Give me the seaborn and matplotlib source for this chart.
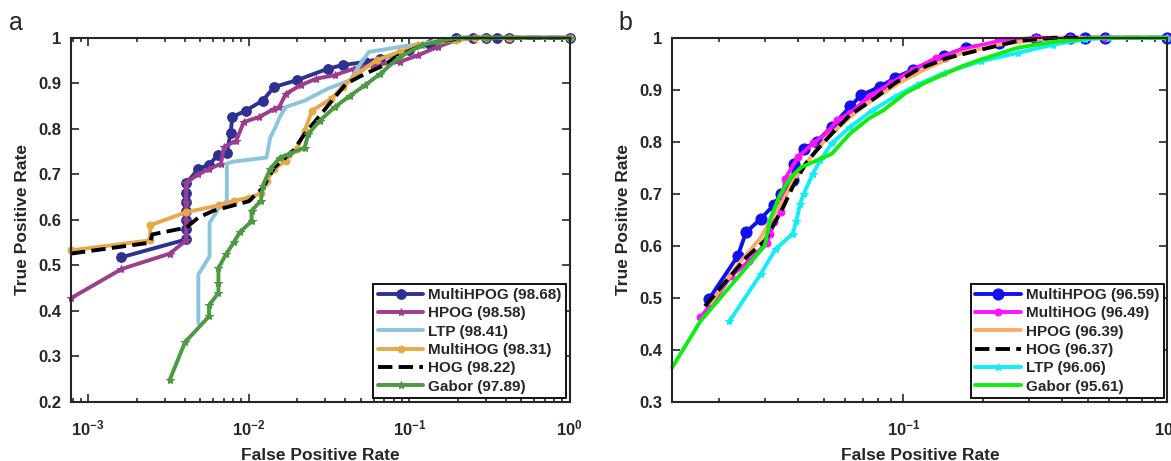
import numpy as np
import pandas as pd
import matplotlib
matplotlib.use("Agg")
import matplotlib.pyplot as plt
import matplotlib.ticker as mticker
import seaborn as sns

sns.set_style("ticks")
plt.rcParams["font.family"] = ["Liberation Sans", "DejaVu Sans"]
plt.rcParams["font.weight"] = "bold"
plt.rcParams["mathtext.fontset"] = "custom"
plt.rcParams["mathtext.rm"] = "Liberation Sans:bold"
plt.rcParams["mathtext.bf"] = "Liberation Sans:bold"

# ---------- panel a data (FPR, TPR) ----------
a_multihpog_fpr = [1.61e-3, 4.07e-3, 4.07e-3, 4.07e-3, 4.07e-3, 4.07e-3, 4.07e-3, 4.07e-3, 4.85e-3, 5.65e-3,
                   6.45e-3, 7.3e-3, 7.7e-3, 7.9e-3, 9.57e-3, 0.0122, 0.0144, 0.020, 0.031, 0.0384, 0.053,
                   0.066, 0.1, 0.134, 0.196, 0.25, 0.30, 0.35, 0.42, 1.0]
a_multihpog_tpr = [0.518, 0.557, 0.58, 0.60, 0.62, 0.64, 0.66, 0.68, 0.712, 0.721,
                   0.743, 0.748, 0.79, 0.826, 0.84, 0.862, 0.892, 0.907, 0.932, 0.94, 0.947,
                   0.954, 0.973, 0.987, 1.0, 1.0, 1.0, 1.0, 1.0, 1.0]
a_hpog_fpr = [7.8e-4, 1.61e-3, 3.22e-3, 4.07e-3, 4.07e-3, 4.07e-3, 4.07e-3, 4.85e-3, 5.65e-3, 6.7e-3,
              7.0e-3, 8.35e-3, 9.3e-3, 0.0116, 0.0144, 0.0155, 0.017, 0.0211, 0.0262, 0.0344, 0.045,
              0.059, 0.087, 0.114, 0.15, 0.196, 0.256, 1.0]
a_hpog_tpr = [0.428, 0.492, 0.526, 0.555, 0.60, 0.64, 0.682, 0.70, 0.712, 0.723,
              0.76, 0.774, 0.815, 0.826, 0.844, 0.848, 0.877, 0.896, 0.91, 0.918, 0.932,
              0.94, 0.947, 0.962, 0.98, 0.995, 1.0, 1.0]
a_ltp_fpr = [4.85e-3, 4.85e-3, 5.7e-3, 5.7e-3, 6.55e-3, 7.3e-3, 7.3e-3, 8.0e-3, 0.0129, 0.0136, 0.0145,
             0.0156, 0.017, 0.0223, 0.031, 0.0428, 0.049, 0.056, 0.087, 0.12, 0.196, 1.0]
a_ltp_tpr = [0.373, 0.48, 0.52, 0.594, 0.627, 0.642, 0.724, 0.728, 0.737, 0.781, 0.80,
             0.826, 0.848, 0.862, 0.888, 0.907, 0.94, 0.969, 0.98, 0.987, 1.0, 1.0]
a_multihog_fpr = [7.8e-4, 2.43e-3, 2.43e-3, 4.07e-3, 6.53e-3, 8.1e-3, 0.01, 0.0119, 0.0129, 0.0144,
                  0.017, 0.020, 0.0223, 0.0248, 0.0326, 0.0384, 0.0464, 0.0626, 0.087, 0.114, 0.196,
                  0.256, 0.30, 0.42, 1.0]
a_multihog_tpr = [0.533, 0.555, 0.588, 0.617, 0.632, 0.642, 0.649, 0.658, 0.686, 0.712,
                  0.73, 0.756, 0.796, 0.84, 0.866, 0.892, 0.918, 0.951, 0.969, 0.984, 0.995,
                  1.0, 1.0, 1.0, 1.0]
a_hog_fpr = [7.8e-4, 2.43e-3, 2.5e-3, 4.07e-3, 4.85e-3, 6.0e-3, 0.01, 0.0122, 0.0144, 0.0189, 0.0223,
             0.0277, 0.0344, 0.0404, 0.053, 0.066, 0.087, 0.114, 0.15, 0.22, 1.0]
a_hog_tpr = [0.526, 0.55, 0.568, 0.583, 0.605, 0.62, 0.641, 0.67, 0.715, 0.752, 0.789,
             0.829, 0.87, 0.899, 0.921, 0.936, 0.962, 0.98, 0.991, 1.0, 1.0]
a_gabor_fpr = [3.22e-3, 4.0e-3, 5.65e-3, 5.65e-3, 6.47e-3, 6.47e-3, 6.47e-3, 7.2e-3, 8.1e-3, 8.8e-3,
               0.0104, 0.0104, 0.0119, 0.0122, 0.0136, 0.0156, 0.0179, 0.0223, 0.0235, 0.0277, 0.0344,
               0.0428, 0.053, 0.066, 0.087, 0.12, 0.15, 0.20, 0.30, 1.0]
a_gabor_tpr = [0.249, 0.331, 0.388, 0.412, 0.44, 0.461, 0.494, 0.524, 0.552, 0.573,
               0.597, 0.62, 0.642, 0.675, 0.712, 0.737, 0.745, 0.759, 0.789, 0.818, 0.848,
               0.873, 0.896, 0.921, 0.958, 0.984, 0.991, 1.0, 1.0, 1.0]

# ---------- panel b data ----------
b_multihpog_fpr = [0.0183, 0.0236, 0.0253, 0.0288, 0.0323, 0.0344, 0.038, 0.0386, 0.0419, 0.0469, 0.0535,
                   0.0628, 0.0693, 0.0815, 0.0929, 0.109, 0.142, 0.172, 0.23, 0.319, 0.427, 0.485,
                   0.58, 1.0]
b_multihpog_tpr = [0.497, 0.581, 0.626, 0.652, 0.679, 0.70, 0.726, 0.758, 0.787, 0.80, 0.829,
                   0.868, 0.89, 0.906, 0.923, 0.939, 0.965, 0.981, 0.99, 0.998, 1.0, 1.0,
                   1.0, 1.0]
b_multihog_fpr = [0.017, 0.0189, 0.0222, 0.0261, 0.0303, 0.0313, 0.0323, 0.0344, 0.0356, 0.0399, 0.0454,
                  0.0517, 0.0561, 0.0628, 0.074, 0.0898, 0.109, 0.133, 0.166, 0.23, 0.319, 0.427,
                  0.58, 1.0]
b_multihog_tpr = [0.463, 0.49, 0.542, 0.571, 0.606, 0.623, 0.645, 0.666, 0.729, 0.771, 0.797,
                  0.819, 0.842, 0.855, 0.887, 0.913, 0.939, 0.961, 0.977, 0.994, 1.0, 1.0,
                  1.0, 1.0]
b_hpog_fpr = [0.0186, 0.0237, 0.0288, 0.0318, 0.035, 0.038, 0.0426, 0.0517, 0.0628, 0.0764, 0.096,
              0.12, 0.166, 0.23, 0.37, 1.0]
b_hpog_tpr = [0.49, 0.565, 0.616, 0.655, 0.687, 0.723, 0.758, 0.81, 0.848, 0.881, 0.913,
              0.939, 0.971, 0.987, 1.0, 1.0]
b_hog_fpr = [0.0177, 0.0208, 0.0253, 0.0298, 0.0318, 0.035, 0.038, 0.0426, 0.0469, 0.0552, 0.0628,
             0.0764, 0.0929, 0.113, 0.146, 0.196, 0.271, 0.37, 1.0]
b_hog_tpr = [0.484, 0.526, 0.577, 0.61, 0.635, 0.674, 0.713, 0.758, 0.784, 0.823, 0.852,
             0.881, 0.913, 0.939, 0.961, 0.977, 0.994, 1.0, 1.0]
b_ltp_fpr = [0.0219, 0.0288, 0.0328, 0.038, 0.0393, 0.0406, 0.0419, 0.0454, 0.0484, 0.0535, 0.0628,
             0.0764, 0.0929, 0.113, 0.142, 0.196, 0.271, 0.37, 0.486, 0.60, 1.0]
b_ltp_tpr = [0.455, 0.546, 0.594, 0.623, 0.648, 0.681, 0.70, 0.739, 0.765, 0.797, 0.829,
             0.861, 0.887, 0.91, 0.932, 0.955, 0.971, 0.987, 0.997, 1.0, 1.0]
b_gabor_fpr = [0.0133, 0.017, 0.0298, 0.0313, 0.034, 0.0374, 0.0412, 0.0454, 0.0535, 0.0628, 0.074,
               0.0841, 0.102, 0.12, 0.166, 0.196, 0.271, 0.37, 0.519, 1.0]
b_gabor_tpr = [0.366, 0.455, 0.60, 0.652, 0.697, 0.732, 0.752, 0.761, 0.777, 0.816, 0.845,
               0.861, 0.894, 0.913, 0.945, 0.958, 0.981, 0.992, 1.0, 1.0]

# name, fpr, tpr, color, linestyle, marker, markersize
panel_a = [
    ("MultiHPOG (98.68)", a_multihpog_fpr, a_multihpog_tpr, "#2E3192", "-", "o", 7),
    ("HPOG (98.58)", a_hpog_fpr, a_hpog_tpr, "#9C3D8F", "-", "*", 6),
    ("LTP (98.41)", a_ltp_fpr, a_ltp_tpr, "#8CC4DE", "-", None, 0),
    ("MultiHOG (98.31)", a_multihog_fpr, a_multihog_tpr, "#E8A84A", "-", "o", 5),
    ("HOG (98.22)", a_hog_fpr, a_hog_tpr, "black", "--", None, 0),
    ("Gabor (97.89)", a_gabor_fpr, a_gabor_tpr, "#4C9A42", "-", "*", 6),
]
panel_b = [
    ("MultiHPOG (96.59)", b_multihpog_fpr, b_multihpog_tpr, "#1010EE", "-", "o", 8),
    ("MultiHOG (96.49)", b_multihog_fpr, b_multihog_tpr, "#FF10FF", "-", "o", 5),
    ("HPOG (96.39)", b_hpog_fpr, b_hpog_tpr, "#FFAA66", "-", None, 0),
    ("HOG (96.37)", b_hog_fpr, b_hog_tpr, "black", "--", None, 0),
    ("LTP (96.06)", b_ltp_fpr, b_ltp_tpr, "#10EEF8", "-", "*", 6),
    ("Gabor (95.61)", b_gabor_fpr, b_gabor_tpr, "#10EE10", "-", None, 0),
]


def log_label(v, pos):
    e = int(round(np.log10(v)))
    return r"$\mathbf{10^{%d}}$" % e


def draw(ax, series, xlim, ylim, yticks):
    for name, fpr, tpr, col, ls, mk, ms in series:
        d = pd.DataFrame({"fpr": fpr, "tpr": tpr})
        kw = dict(marker=mk, markersize=ms, markerfacecolor=col, markeredgecolor=col) if mk else {}
        sns.lineplot(data=d, x="fpr", y="tpr", ax=ax, color=col, linestyle=ls, linewidth=2.8,
                     estimator=None, sort=False, label=name, clip_on=False, **kw)
    ax.set_xscale("log")
    ax.set_xlim(*xlim)
    ax.set_ylim(*ylim)
    ax.set_yticks(yticks)
    ax.set_yticklabels([("%g" % t) for t in yticks])
    ax.xaxis.set_major_locator(mticker.LogLocator(base=10))
    ax.xaxis.set_minor_locator(mticker.LogLocator(base=10, subs=np.arange(2, 10)))
    ax.xaxis.set_major_formatter(mticker.FuncFormatter(log_label))
    ax.xaxis.set_minor_formatter(mticker.NullFormatter())
    ax.tick_params(which="both", direction="in", top=True, right=True, labelsize=12, width=1.2)
    ax.tick_params(which="major", length=6)
    ax.tick_params(axis="x", which="major", pad=12)
    ax.tick_params(axis="y", which="major", pad=7)
    ax.tick_params(which="minor", length=3)
    for lab in ax.get_yticklabels():
        lab.set_fontweight("bold")
    for sp in ax.spines.values():
        sp.set_linewidth(1.5)
        sp.set_visible(True)
        sp.set_zorder(5)
    ax.set_xlabel("False Positive Rate", fontsize=12.5, fontweight="bold", labelpad=7)
    ax.set_ylabel("True Positive Rate", fontsize=12.5, fontweight="bold", labelpad=6)
    leg = ax.legend(loc="lower right", fancybox=False, framealpha=1, edgecolor="black",
                    handlelength=3.0, handletextpad=0.3, labelspacing=0.28, borderpad=0.3,
                    borderaxespad=0.25, prop={"weight": "bold", "size": 11})
    leg.get_frame().set_linewidth(1.3)
    leg.set_zorder(10)


fig = plt.figure(figsize=(11.71, 4.61), dpi=100)
ax_a = fig.add_axes([0.0606, 0.128, 0.426, 0.790])
ax_b = fig.add_axes([0.574, 0.128, 0.423, 0.790])

draw(ax_a, panel_a, (7.8e-4, 1.0), (0.2, 1.0), [0.2, 0.3, 0.4, 0.5, 0.6, 0.7, 0.8, 0.9, 1.0])
draw(ax_b, panel_b, (0.0133, 1.0), (0.3, 1.0), [0.3, 0.4, 0.5, 0.6, 0.7, 0.8, 0.9, 1.0])

fig.text(0.008, 0.935, "a", fontsize=18, fontweight="normal")
fig.text(0.528, 0.935, "b", fontsize=18, fontweight="normal")

fig.savefig("out.png", dpi=100)
